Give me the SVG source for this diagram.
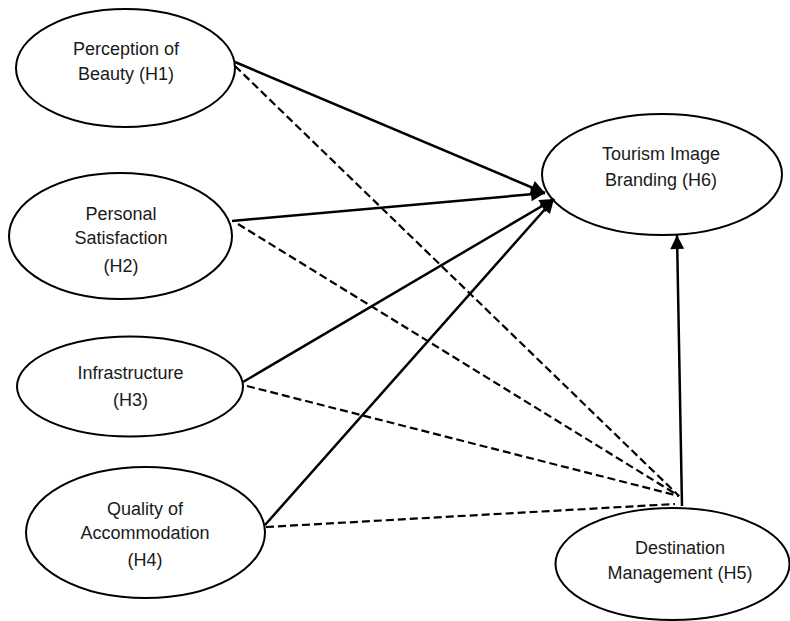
<svg xmlns="http://www.w3.org/2000/svg" width="790" height="621" viewBox="0 0 790 621">
<defs>
<style>
.node ellipse{fill:#fff;stroke:#000;stroke-width:2}
.node text{font-family:"Liberation Sans",Arial,sans-serif;font-size:18px;fill:#1a1a1a;text-anchor:middle}
.solid{stroke:#000;stroke-width:2.5;fill:none}
.dash{stroke:#000;stroke-width:2.2;fill:none;stroke-dasharray:8 4}
</style>
<marker id="ah" viewBox="0 0 10 10" refX="10" refY="5" markerWidth="15" markerHeight="14" markerUnits="userSpaceOnUse" orient="auto">
<path d="M0,0 L10,5 L0,10 z" fill="#000"/>
</marker>
</defs>
<rect width="790" height="621" fill="#fff"/>
<g id="n-h1" class="node">
<ellipse cx="125.5" cy="68" rx="109.5" ry="59"/>
<text x="126" y="55">Perception of</text>
<text x="126" y="80">Beauty (H1)</text>
</g>
<g id="n-h2" class="node">
<ellipse cx="120.5" cy="236" rx="111.5" ry="63"/>
<text x="121" y="220">Personal</text>
<text x="121" y="244">Satisfaction</text>
<text x="121" y="272">(H2)</text>
</g>
<g id="n-h3" class="node">
<ellipse cx="130" cy="386.5" rx="113" ry="50"/>
<text x="130.5" y="379">Infrastructure</text>
<text x="130.5" y="406">(H3)</text>
</g>
<g id="n-h4" class="node">
<ellipse cx="145.5" cy="532.5" rx="119.5" ry="65.5"/>
<text x="145" y="515">Quality of</text>
<text x="145" y="539">Accommodation</text>
<text x="145" y="566">(H4)</text>
</g>
<g id="n-h6" class="node">
<ellipse cx="662" cy="174.5" rx="120" ry="60.5"/>
<text x="661" y="160">Tourism Image</text>
<text x="661" y="186">Branding (H6)</text>
</g>
<g id="n-h5" class="node">
<ellipse cx="672.5" cy="564" rx="117" ry="56"/>
<text x="680" y="554">Destination</text>
<text x="680" y="579">Management (H5)</text>
</g>
<g id="connectors">
<line class="solid" x1="235" y1="62" x2="545" y2="193" marker-end="url(#ah)"/>
<line class="solid" x1="232" y1="221" x2="545" y2="193" marker-end="url(#ah)"/>
<line class="solid" x1="243" y1="382" x2="554" y2="199" marker-end="url(#ah)"/>
<line class="solid" x1="265" y1="525" x2="554" y2="199" marker-end="url(#ah)"/>
<line class="solid" x1="682" y1="506" x2="677" y2="235" marker-end="url(#ah)"/>
<line class="dash" x1="235" y1="66" x2="679" y2="496"/>
<line class="dash" x1="238" y1="224" x2="679" y2="496"/>
<line class="dash" x1="247" y1="386" x2="679" y2="496"/>
<line class="dash" x1="266" y1="527" x2="675" y2="504"/>
</g>
</svg>
